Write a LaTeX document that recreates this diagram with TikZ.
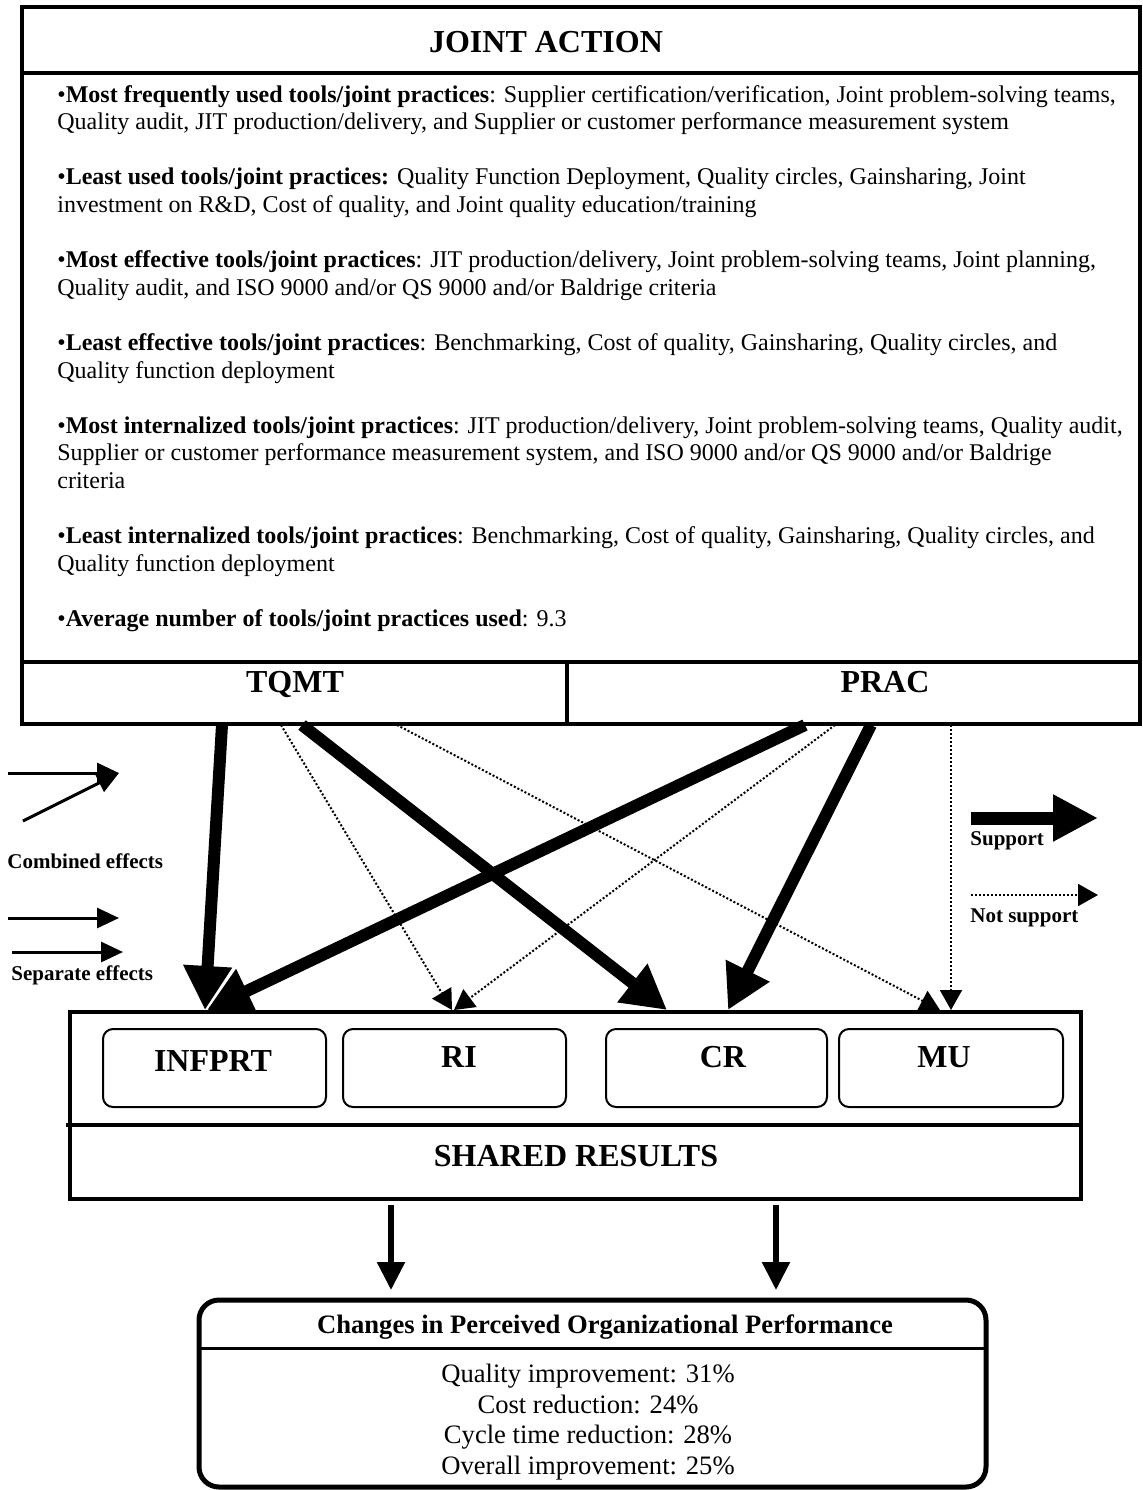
\documentclass[tikz,border=0pt]{standalone}
\usepackage{fontspec}
\setmainfont{Liberation Serif}
\usetikzlibrary{arrows.meta}

\tikzset{
  frame/.style={draw, line width=2pt},
  hdr/.style={font=\fontsize{16pt}{19pt}\selectfont\bfseries, inner sep=0pt},
  legtext/.style={font=\fontsize{10.5pt}{12pt}\selectfont\bfseries, inner sep=0pt, anchor=west},
  resbox/.style={draw, line width=1pt, rounded corners=5pt, minimum height=39pt},
  strong/.style={line width=6pt, -{Triangle[length=22pt 0, width=23pt 0]}},
  weak/.style={line width=1pt, dash pattern=on 1pt off 1pt, -{Triangle[length=10pt 0, width=11pt 0]}},
  legarrow/.style={line width=1.5pt, -{Triangle[length=11pt 0, width=10pt 0]}},
  outarrow/.style={line width=2.75pt, -{Triangle[length=14pt 0, width=13.5pt 0]}},
}

\begin{document}
\begin{tikzpicture}[x=0.5pt, y=-0.5pt]
  \useasboundingbox (0,0) rectangle (1143,1490);

  % ---------- joint action frame ----------
  \draw[frame] (22,7) rectangle (1140,724);
  \draw[frame] (22,73) -- (1140,73);
  \draw[frame] (22,662) -- (1140,662);
  \draw[frame] (567,662) -- (567,724);

  \node[hdr] (ja) at (546,42) {JOINT ACTION};

  \node[anchor=base west, inner sep=0pt] (practices) at (57,102) {%
    \parbox[t]{540pt}{\fontsize{12pt}{13.8pt}\selectfont
      \setlength{\parindent}{0pt}\setlength{\parskip}{13.8pt}\raggedright
      •\textbf{Most frequently used tools/joint practices}: Supplier certification/verification, Joint problem-solving teams,\\
      Quality audit, JIT production/delivery, and Supplier or customer performance measurement system\par
      •\textbf{Least used tools/joint practices:} Quality Function Deployment, Quality circles, Gainsharing, Joint\\
      investment on R\&D, Cost of quality, and Joint quality education/training\par
      •\textbf{Most effective tools/joint practices}: JIT production/delivery, Joint problem-solving teams, Joint planning,\\
      Quality audit, and ISO 9000 and/or QS 9000 and/or Baldrige criteria\par
      •\textbf{Least effective tools/joint practices}: Benchmarking, Cost of quality, Gainsharing, Quality circles, and\\
      Quality function deployment\par
      •\textbf{Most internalized tools/joint practices}: JIT production/delivery, Joint problem-solving teams, Quality audit,\\
      Supplier or customer performance measurement system, and ISO 9000 and/or QS 9000 and/or Baldrige\\
      criteria\par
      •\textbf{Least internalized tools/joint practices}: Benchmarking, Cost of quality, Gainsharing, Quality circles, and\\
      Quality function deployment\par
      •\textbf{Average number of tools/joint practices used}: 9.3\par}};

  \node[hdr, anchor=base] (tqmt) at (295,692) {TQMT};
  \node[hdr, anchor=base] (prac) at (885,692) {PRAC};

  % connector origins on the lower edge of the frame
  \coordinate (tq1) at (222,725);
  \coordinate (tq2) at (281,725);
  \coordinate (tq3) at (302,725);
  \coordinate (tq4) at (397,725);
  \coordinate (pr1) at (805,725);
  \coordinate (pr2) at (835,725);
  \coordinate (pr3) at (871,725);
  \coordinate (pr4) at (951,725);

  % ---------- shared results frame ----------
  \draw[frame] (70,1012) rectangle (1081,1199);
  \draw[frame] (66,1125) -- (1081,1125);

  \node[resbox, minimum width=111.5pt] (infprt) at (214.5,1068) {};
  \node[resbox, minimum width=111.5pt] (ri) at (454.5,1068) {};
  \node[resbox, minimum width=110.5pt] (cr) at (716.5,1068) {};
  \node[resbox, minimum width=112pt] (mu) at (951,1068) {};
  \node[hdr] (infprtlbl) at (213,1061) {INFPRT};
  \node[hdr] (rilbl) at (459,1057) {RI};
  \node[hdr] (crlbl) at (723,1057) {CR};
  \node[hdr] (mulbl) at (944,1057) {MU};
  \node[hdr] (shared) at (576,1156) {SHARED RESULTS};

  % connector targets on the upper edge of the results frame
  \coordinate (inA) at (205,1010);
  \coordinate (inB) at (207,1010);
  \coordinate (riA) at (452,1010);
  \coordinate (riB) at (454,1010);
  \coordinate (crA) at (667,1010);
  \coordinate (crB) at (728,1010);
  \coordinate (muA) at (940,1010);
  \coordinate (muB) at (951,1010);

  % ---------- effects ----------
  \draw[weak] (tq2) -- (riA);
  \draw[weak] (tq4) -- (muA);
  \draw[weak] (pr2) -- (riB);
  \draw[weak] (pr4) -- (muB);
  \draw[strong] (tq1) -- (inA);
  \draw[strong] (tq3) -- (crA);
  \draw[strong] (pr1) -- (inB);
  \draw[strong] (pr3) -- (crB);

  % ---------- legend, left ----------
  \coordinate (cmbA) at (8,773);
  \coordinate (cmbB) at (23,821);
  \coordinate (cmbT) at (119,773);
  \draw[legarrow] (cmbA) -- (cmbT);
  \draw[legarrow] (cmbB) -- (cmbT);
  \node[legtext] (cmbtxt) at (7,861) {Combined effects};

  \coordinate (sepA) at (8,918);
  \coordinate (sepAT) at (119,918);
  \coordinate (sepB) at (12,952);
  \coordinate (sepBT) at (123,952);
  \draw[legarrow] (sepA) -- (sepAT);
  \draw[legarrow] (sepB) -- (sepBT);
  \node[legtext] (septxt) at (11,975) {Separate effects};

  % ---------- legend, right ----------
  \coordinate (supS) at (971,818);
  \coordinate (supT) at (1098,818);
  \draw[line width=6.5pt, -{Triangle[length=22.5pt 0, width=22pt 0]}] (supS) -- (supT);
  \node[legtext] (suptxt) at (970,841) {Support};

  \coordinate (nsS) at (971,895);
  \coordinate (nsT) at (1098,895);
  \draw[weak] (nsS) -- (nsT);
  \node[legtext] (nstxt) at (970,918) {Not support};

  % ---------- organizational performance ----------
  \coordinate (o1) at (391,1205);
  \coordinate (o1t) at (391,1290);
  \coordinate (o2) at (776,1205);
  \coordinate (o2t) at (776,1290);
  \draw[outarrow] (o1) -- (o1t);
  \draw[outarrow] (o2) -- (o2t);

  \draw[line width=2.5pt, rounded corners=10pt] (199,1300) rectangle (986,1487);
  \draw[line width=1.5pt] (199,1348) -- (986,1348);
  \node[font=\fontsize{13.3pt}{15pt}\selectfont\bfseries, inner sep=0pt] (perfhdr) at (605,1327)
    {Changes in Perceived Organizational Performance};
  \node[font=\fontsize{13.3pt}{15.3pt}\selectfont, align=center, inner sep=0pt] (perf) at (588,1422)
    {Quality improvement: 31\%\\Cost reduction: 24\%\\Cycle time reduction: 28\%\\Overall improvement: 25\%};
\end{tikzpicture}
\end{document}
